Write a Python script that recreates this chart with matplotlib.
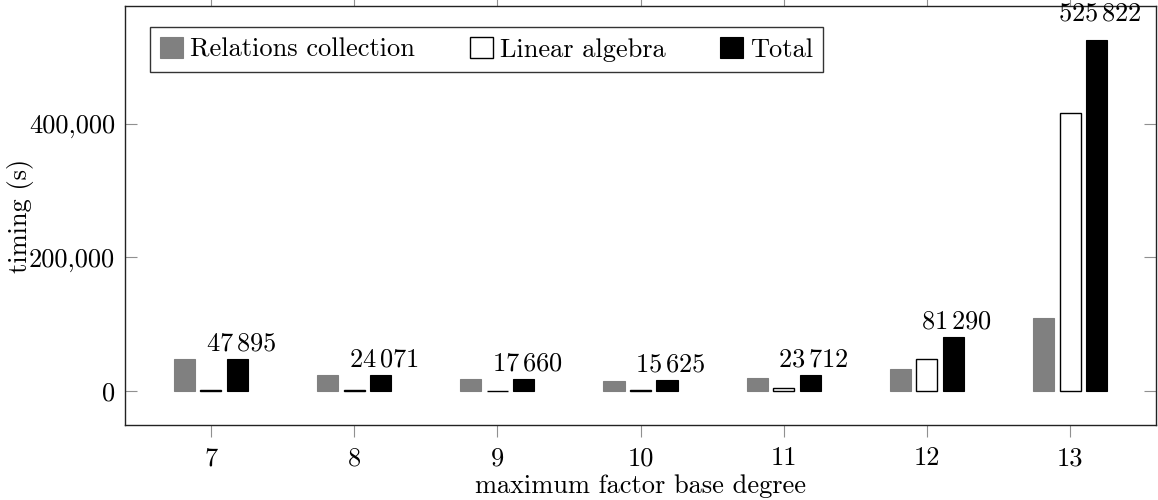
import matplotlib.pyplot as plt
import numpy as np

# data
degrees = [7, 8, 9, 10, 11, 12, 13]
relations = [47300, 23700, 17400, 15300, 19000, 32600, 108600]
linalg = [600, 370, 260, 320, 4700, 48300, 417200]
total = [47895, 24071, 17660, 15625, 23712, 81290, 525822]
total_labels = [r'$47\,895$', r'$24\,071$', r'$17\,660$', r'$15\,625$',
                r'$23\,712$', r'$81\,290$', r'$525\,822$']

plt.rcParams['font.family'] = ['cmr10', 'DejaVu Serif']
plt.rcParams['mathtext.fontset'] = 'cm'
plt.rcParams['axes.unicode_minus'] = False
fs = 19

fig = plt.figure(figsize=(11.58, 5.0), dpi=100)
ax = fig.add_axes([125 / 1158, 1 - 425 / 500, (1156 - 125) / 1158, (425 - 6) / 500])

x = np.array(degrees, dtype=float)
w = 0.147
off = 0.185
ax.bar(x - off, relations, w, color='#808080', edgecolor='#808080', linewidth=0.8,
       label='Relations collection')
ax.bar(x, linalg, w, color='white', edgecolor='black', linewidth=1.0,
       label='Linear algebra')
ax.bar(x + off, total, w, color='black', edgecolor='black', linewidth=0.8,
       label='Total')

# value labels above the total bars
for xi, t, lab in zip(x, total, total_labels):
    dy = 14 if t == max(total) else 6
    ax.annotate(lab, (xi + off, t), xytext=(2.5, dy), textcoords='offset points',
                ha='center', va='baseline', fontsize=fs)

ax.set_xlim(6.40, 13.6)
ax.set_ylim(-51450, 577050)
ax.set_xticks(degrees)
ax.set_xticklabels([str(d) for d in degrees], fontsize=fs)
ax.set_yticks([0, 200000, 400000])
ax.set_yticklabels(['0', '200,000', '400,000'], fontsize=fs)

ax.tick_params(axis='x', direction='out', length=8.6, width=0.8, color='#909090',
               top=True, bottom=True, pad=7)
ax.tick_params(axis='y', direction='in', length=8.6, width=0.8, color='#909090',
               left=True, right=True, pad=7.2)
for s in ax.spines.values():
    s.set_linewidth(1.0)
    s.set_color('#222222')

ax.set_xlabel('maximum factor base degree', fontsize=fs)
ax.xaxis.set_label_coords(0.5, -0.162)
ax.xaxis.label.set_va('baseline')
ax.set_ylabel('timing (s)', fontsize=fs)
ax.yaxis.set_label_coords(-0.088, 0.5)

leg = ax.legend(loc='upper left', ncol=3, fontsize=fs, frameon=True, fancybox=False,
                edgecolor='black', handlelength=0.87, handleheight=0.87,
                handletextpad=0.27, columnspacing=2.07, borderpad=0.38,
                borderaxespad=0, bbox_to_anchor=(0.0242, 0.95))
leg.get_frame().set_linewidth(1.0)

plt.savefig('out.png', dpi=100)
